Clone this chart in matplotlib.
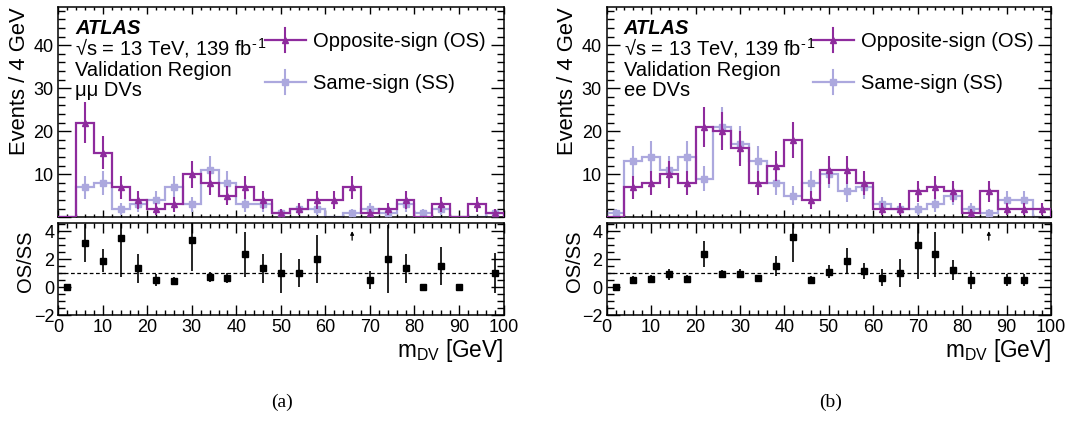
import numpy as np
import matplotlib
matplotlib.use('Agg')
import matplotlib.pyplot as plt
from matplotlib.ticker import MultipleLocator, FixedLocator, FuncFormatter

plt.rcParams['font.family'] = ['Liberation Sans', 'DejaVu Sans']
plt.rcParams['mathtext.default'] = 'regular'

# ---------------- data ----------------
bin_edges = np.arange(0, 101, 4)
mumu_os = [0, 22, 15, 7, 4, 2, 3, 10, 8, 5, 7, 4, 1, 2, 4, 4, 7, 1, 2, 4, 0, 3, 0, 3, 1]
mumu_ss = [0, 7, 8, 2, 3, 4, 7, 3, 11, 8, 3, 3, 1, 2, 2, 0, 1, 2, 1, 3, 1, 2, 0, 0, 1]
ee_os = [0, 7, 8, 10, 8, 21, 20, 16, 8, 12, 18, 4, 11, 11, 8, 2, 2, 6, 7, 6, 1, 6, 2, 2, 2]
ee_ss = [1, 13, 14, 11, 14, 9, 21, 17, 13, 8, 5, 8, 10, 6, 7, 3, 2, 2, 3, 5, 2, 1, 4, 4, 0]
region_labels = ['μμ DVs', 'ee DVs']
panel_captions = ['(a)', '(b)']
x_ticks = [0, 10, 20, 30, 40, 50, 60, 70, 80, 90, 100]

OS_COL = '#8e2b9d'
SS_COL = '#aca8de'

W, H = 1073, 421
fig = plt.figure(figsize=(W / 100, H / 100), dpi=100)

def fx(px):
    return px / W

def fy_bottom(px):
    return 1 - px / H

panels = [
    (58.3, 445.2, mumu_os, mumu_ss, region_labels[0], panel_captions[0]),
    (606.7, 444.3, ee_os, ee_ss, region_labels[1], panel_captions[1]),
]

up_top, up_bot = 7.3, 217.3
lo_top, lo_bot = 222.7, 315.0
UP_YMAX = 48.8
LO_YMIN, LO_YMAX = -2.0, 4.6

centers = 0.5 * (bin_edges[:-1] + bin_edges[1:])

for left_px, width_px, os_v, ss_v, region, caption in panels:
    os_a = np.array(os_v, dtype=float)
    ss_a = np.array(ss_v, dtype=float)

    ax = fig.add_axes([fx(left_px), fy_bottom(up_bot), fx(width_px), (up_bot - up_top) / H])
    rx = fig.add_axes([fx(left_px), fy_bottom(lo_bot), fx(width_px), (lo_bot - lo_top) / H])

    # ---------- upper panel ----------
    ax.stairs(ss_a, bin_edges, baseline=0, color=SS_COL, lw=1.6, zorder=2)
    m = ss_a > 0
    ax.errorbar(centers[m], ss_a[m], yerr=np.sqrt(ss_a[m]), fmt='s', ms=4.2,
                color=SS_COL, ecolor=SS_COL, elinewidth=1.5, capsize=0, zorder=3)
    ax.stairs(os_a, bin_edges, baseline=0, color=OS_COL, lw=1.6, zorder=4)
    m = os_a > 0
    ax.errorbar(centers[m], os_a[m], yerr=np.sqrt(os_a[m]), fmt='^', ms=5,
                color=OS_COL, ecolor=OS_COL, elinewidth=1.5, capsize=0, zorder=5)

    ax.set_xlim(0, 100)
    ax.set_ylim(0, UP_YMAX)
    ax.xaxis.set_major_locator(MultipleLocator(10))
    ax.xaxis.set_minor_locator(MultipleLocator(2))
    ax.yaxis.set_major_locator(FixedLocator([0, 10, 20, 30, 40]))
    ax.yaxis.set_minor_locator(MultipleLocator(2))
    ax.yaxis.set_major_formatter(FuncFormatter(lambda v, p: '' if v == 0 else f'{v:g}'))
    ax.tick_params(which='both', direction='in', top=True, right=True, labelbottom=False,
                   labelsize=13, width=1.0)
    ax.tick_params(axis='y', which='major', length=9.5)
    ax.tick_params(axis='y', which='minor', length=5)
    ax.tick_params(axis='x', which='major', length=5)
    ax.tick_params(axis='x', which='minor', length=2.5)
    for s in ax.spines.values():
        s.set_linewidth(1.1)
    ax.set_ylabel('Events / 4 GeV', fontsize=15.8, loc='top')
    ax.yaxis.set_label_coords(-0.064, 1.0)

    # texts
    tx = 0.038
    ax.text(tx, (up_bot - 34) / 210, 'ATLAS', transform=ax.transAxes, fontsize=14.5,
            fontweight='bold', fontstyle='italic', va='baseline', ha='left')
    ax.text(tx, (up_bot - 55.5) / 210, '√s = 13 TeV, 139 fb$^{\u2010\u200a1}$',
            transform=ax.transAxes, fontsize=14.5, va='baseline', ha='left')
    ax.text(tx, (up_bot - 75.5) / 210, 'Validation Region', transform=ax.transAxes,
            fontsize=14.5, va='baseline', ha='left')
    ax.text(tx, (up_bot - 95.5) / 210, region, transform=ax.transAxes,
            fontsize=14.5, va='baseline', ha='left')

    # legend (manual)
    lx0, lx1, ltx = 0.464, 0.556, 0.573
    for yy, col, mk, ms, lab in [((up_bot - 40) / 210, OS_COL, '^', 5, 'Opposite-sign (OS)'),
                                  ((up_bot - 82) / 210, SS_COL, 's', 4.2, 'Same-sign (SS)')]:
        ax.plot([lx0, lx1], [yy, yy], transform=ax.transAxes, color=col, lw=1.6, clip_on=False)
        xm = 0.5 * (lx0 + lx1)
        ax.plot([xm, xm], [yy - 0.058, yy + 0.058], transform=ax.transAxes, color=col, lw=1.5,
                clip_on=False)
        ax.plot([xm], [yy], transform=ax.transAxes, marker=mk, ms=ms, color=col, clip_on=False)
        ax.text(ltx, yy - 0.005, lab, transform=ax.transAxes, fontsize=14.5, va='center',
                ha='left')

    # ---------- ratio panel ----------
    ratio = np.full(len(os_a), np.nan)
    rerr = np.zeros(len(os_a))
    for i in range(len(os_a)):
        if os_a[i] == 0:
            ratio[i] = 0.0
            rerr[i] = 0.0
        elif ss_a[i] > 0:
            ratio[i] = os_a[i] / ss_a[i]
            rerr[i] = ratio[i] * np.sqrt(1.0 / os_a[i] + 1.0 / ss_a[i])
    inside = np.isfinite(ratio) & (ratio <= LO_YMAX)
    above = np.isfinite(ratio) & (ratio > LO_YMAX)
    rx.axhline(1.0, color='k', lw=0.9, ls=(0, (3, 2)), zorder=1)
    rx.errorbar(centers[inside], ratio[inside], yerr=rerr[inside], fmt='s', ms=5,
                color='k', ecolor='k', elinewidth=1.2, capsize=0, zorder=3)
    for c in centers[above]:
        rx.annotate('', xy=(c, 4.0), xytext=(c, 3.35),
                    arrowprops=dict(arrowstyle='-|>', color='k', lw=0.9, mutation_scale=5,
                                    shrinkA=0, shrinkB=0))
    rx.set_xlim(0, 100)
    rx.set_ylim(LO_YMIN, LO_YMAX)
    rx.xaxis.set_major_locator(FixedLocator(x_ticks))
    rx.xaxis.set_minor_locator(MultipleLocator(2))
    rx.yaxis.set_major_locator(FixedLocator([-2, 0, 2, 4]))
    rx.yaxis.set_minor_locator(MultipleLocator(0.5))
    rx.tick_params(which='both', direction='in', top=True, right=True, labelsize=13, width=1.0)
    rx.tick_params(axis='x', which='major', length=7, pad=3)
    rx.tick_params(axis='x', which='minor', length=3.5)
    rx.tick_params(axis='y', which='major', length=9.5, pad=3)
    rx.tick_params(axis='y', which='minor', length=5)
    for s in rx.spines.values():
        s.set_linewidth(1.1)
    rx.set_ylabel('OS/SS', fontsize=14.5, loc='top')
    rx.yaxis.set_label_coords(-0.052, 0.92)
    rx.set_xlabel('m$_{DV}$ [GeV]', fontsize=16.3, loc='right')
    rx.xaxis.set_label_coords(1.0, -0.235)

    fig.text(fx(left_px + width_px * 0.503), 0.045, caption, fontsize=14,
             family=['Liberation Serif', 'DejaVu Serif'], ha='center', va='center')

fig.savefig('out.png', dpi=100)
